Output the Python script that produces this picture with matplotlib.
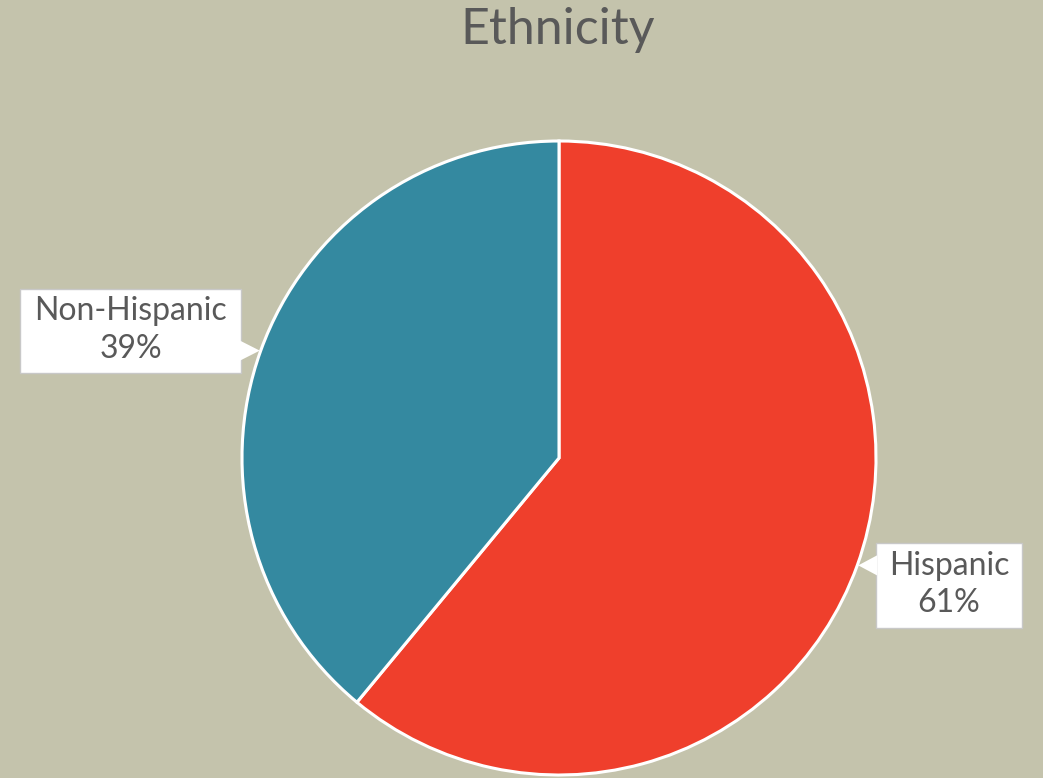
import matplotlib.pyplot as plt
import numpy as np
from matplotlib.patches import Polygon

# Данные
labels = ['Hispanic', 'Non-Hispanic']
shares = [61, 39]
colors = ['#EF3F2C', '#3489A0']

W, H = 1043, 778
bg = '#C4C3AC'
text_color = '#595959'

# Рамки выносок в пикселях (слева, справа, сверху, снизу — сверху вниз)
boxes = {'Hispanic': (876, 1022, 543, 628),
         'Non-Hispanic': (20, 241, 289, 373)}

plt.rcParams['font.family'] = ['Lato', 'DejaVu Sans']

fig = plt.figure(figsize=(W / 100, H / 100), dpi=100, facecolor=bg)
ax = fig.add_axes([0, 0, 1, 1])
ax.set_facecolor(bg)

cx, cy, r = 559, H - 458, 317
wedges, _ = ax.pie(shares, colors=colors, startangle=90, counterclock=False,
                   center=(cx, cy), radius=r, frame=True,
                   wedgeprops=dict(edgecolor='white', linewidth=2.2))
ax.set_xlim(0, W)
ax.set_ylim(0, H)
ax.set_aspect('equal')
ax.axis('off')

# Подписи-выноски
for w, lab, val in zip(wedges, labels, shares):
    ang = np.deg2rad((w.theta1 + w.theta2) / 2)
    tx, ty = cx + r * np.cos(ang), cy + r * np.sin(ang)
    x0, x1, top, bot = boxes[lab]
    y0, y1 = H - bot, H - top
    box = Polygon([[x0, y0], [x1, y0], [x1, y1], [x0, y1]], closed=True,
                  facecolor='white', edgecolor='#C8C8C8', linewidth=1, zorder=5)
    ax.add_patch(box)
    if np.cos(ang) < 0:
        tri = [[x1 - 1, ty + 10], [tx - 1, ty], [x1 - 1, ty - 10]]
    else:
        tri = [[x0 + 1, ty + 10], [tx + 1, ty], [x0 + 1, ty - 10]]
    ax.add_patch(Polygon(tri, closed=True, facecolor='white', edgecolor='none', zorder=6))
    ax.text((x0 + x1) / 2, (y0 + y1) / 2 + 1, f'{lab}\n{val}%', ha='center', va='center',
            fontsize=23, color=text_color, linespacing=1.3, zorder=7)

ax.text(558, H - 30, 'Ethnicity', ha='center', va='center',
        fontsize=36, color=text_color)

fig.savefig('out.png', dpi=100, facecolor=bg)
